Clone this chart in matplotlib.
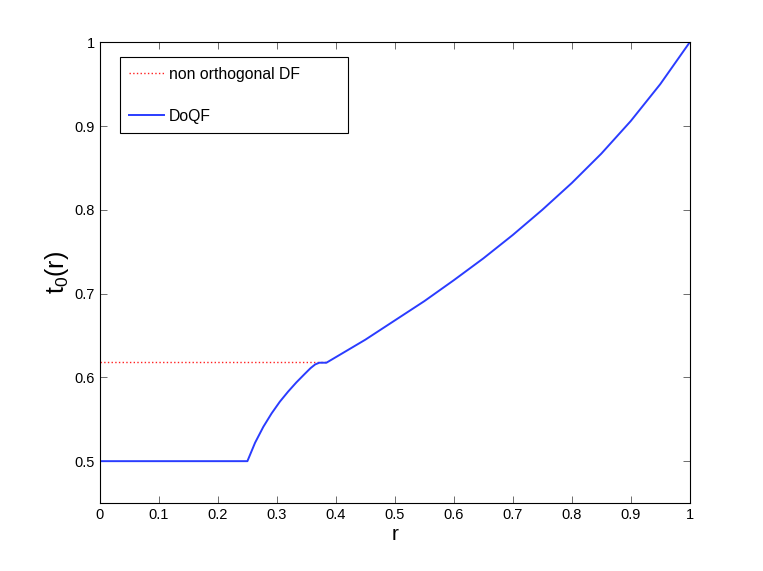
import numpy as np
import matplotlib
matplotlib.use('Agg')
import matplotlib.pyplot as plt

plt.rcParams['font.family'] = ['Liberation Sans', 'DejaVu Sans']

# --- Data ---
# DoQF curve
r_doqf = [0, 0.25, 0.263, 0.277, 0.291, 0.305, 0.319, 0.333, 0.347, 0.357,
          0.365, 0.372, 0.384, 0.45, 0.5, 0.55, 0.6, 0.65, 0.7, 0.75, 0.8,
          0.85, 0.9, 0.95, 1.0]
t_doqf = [0.5, 0.5, 0.522, 0.541, 0.557, 0.571, 0.583, 0.594, 0.604, 0.611,
          0.6155, 0.6175, 0.6175, 0.645, 0.668, 0.691, 0.716, 0.742, 0.770,
          0.800, 0.832, 0.867, 0.906, 0.950, 1.0]

# non orthogonal DF (constant level)
r_nodf = [0, 0.384]
t_nodf = [0.618, 0.618]

x_ticks = [0, 0.1, 0.2, 0.3, 0.4, 0.5, 0.6, 0.7, 0.8, 0.9, 1]
y_ticks = [0.5, 0.6, 0.7, 0.8, 0.9, 1]

fig = plt.figure(figsize=(7.63, 5.71), dpi=100)
ax = fig.add_axes([0.131, 0.119, 0.773, 0.807])

ax.plot(r_nodf, t_nodf, color='#ff2020', linestyle=':', linewidth=1.0,
        label='non orthogonal DF')
ax.plot(r_doqf, t_doqf, color='#2a3cff', linewidth=1.4, label='DoQF')

ax.set_xlim(0, 1)
ax.set_ylim(0.45, 1)
ax.set_xticks(x_ticks)
ax.set_xticklabels(['0', '0.1', '0.2', '0.3', '0.4', '0.5', '0.6', '0.7', '0.8', '0.9', '1'])
ax.set_yticks(y_ticks)
ax.set_yticklabels(['0.5', '0.6', '0.7', '0.8', '0.9', '1'])
ax.tick_params(direction='in', top=True, right=True, length=5, labelsize=10.5,
               width=0.6, color='#555555')
for s in ax.spines.values():
    s.set_linewidth(0.8)

ax.set_xlabel('r', fontsize=15, labelpad=2)
ax.set_ylabel(r'$\mathregular{t_0(r)}$', fontsize=18, labelpad=3)

leg = ax.legend(loc='upper left', bbox_to_anchor=(0.034, 0.806, 0.386, 0.161),
                mode='expand', borderaxespad=0,
                fontsize=11.3, handlelength=2.2, handletextpad=0.3,
                labelspacing=1.7, borderpad=0.6, fancybox=False,
                edgecolor='black', framealpha=1)
leg.get_frame().set_linewidth(0.8)

fig.savefig('out.png', dpi=100)
